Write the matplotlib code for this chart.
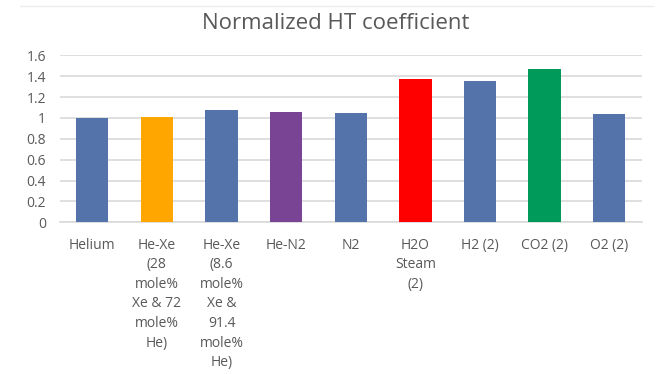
import matplotlib
matplotlib.use("Agg")
import matplotlib.pyplot as plt
from matplotlib.lines import Line2D

categories = ["Helium", "He-Xe\n(28\nmole%\nXe & 72\nmole%\nHe)", "He-Xe\n(8.6\nmole%\nXe &\n91.4\nmole%\nHe)",
              "He-N2", "N2", "H2O\nSteam\n(2)", "H2 (2)", "CO2 (2)", "O2 (2)"]
values = [1.00, 1.01, 1.08, 1.06, 1.05, 1.37, 1.35, 1.47, 1.04]
colors = ["#5573AB", "#FFA600", "#5573AB", "#7A4495", "#5573AB", "#FF0000", "#5573AB", "#009B5B", "#5573AB"]
yticks = [0, 0.2, 0.4, 0.6, 0.8, 1.0, 1.2, 1.4, 1.6]
ytick_labels = ["0", "0.2", "0.4", "0.6", "0.8", "1", "1.2", "1.4", "1.6"]

plt.rcParams['font.family'] = ['Open Sans', 'DejaVu Sans']
fig = plt.figure(figsize=(6.6, 3.74), dpi=100)
ax = fig.add_axes([0.0909, 0.4056, 0.8811, 0.4465])
x = range(len(categories))
ax.bar(x, values, width=0.5, color=colors, zorder=3)
ax.set_xlim(-0.5, len(categories) - 0.5)
ax.set_ylim(0, 1.6)
ax.set_yticks(yticks)
ax.set_yticklabels(ytick_labels)
ax.set_xticks(list(x))
ax.set_xticklabels(categories, linespacing=1.42, va="top")
ax.grid(axis="y", color="#d9d9d9", linewidth=1.2, zorder=0)
for s in ["top", "right", "left"]:
    ax.spines[s].set_visible(False)
ax.spines["bottom"].set_color("#d9d9d9")
ax.spines["bottom"].set_linewidth(1.2)
ax.tick_params(axis="both", length=0, colors="#595959", labelsize=10)
ax.tick_params(axis="x", pad=11)
ax.tick_params(axis="y", pad=10)
fig.text(0.508, 0.938, "Normalized HT coefficient", ha="center", va="center", fontsize=16, color="#595959")
fig.add_artist(Line2D([0.03, 0.99], [0.984, 0.984], transform=fig.transFigure, color="#ececec", linewidth=1))
fig.savefig("out.png", dpi=100)
